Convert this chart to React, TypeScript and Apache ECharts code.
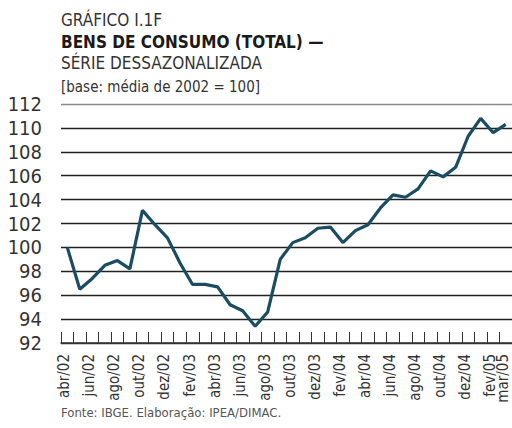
import React, { useEffect, useRef } from "react";
import * as echarts from "echarts";

const months = [
  "abr/02", "mai/02", "jun/02", "jul/02", "ago/02", "set/02", "out/02", "nov/02", "dez/02",
  "jan/03", "fev/03", "mar/03", "abr/03", "mai/03", "jun/03", "jul/03", "ago/03", "set/03",
  "out/03", "nov/03", "dez/03", "jan/04", "fev/04", "mar/04", "abr/04", "mai/04", "jun/04",
  "jul/04", "ago/04", "set/04", "out/04", "nov/04", "dez/04", "jan/05", "fev/05", "mar/05",
];

const values = [
  100.0, 96.5, 97.4, 98.5, 98.9, 98.2, 103.1, 101.9, 100.8,
  98.7, 96.9, 96.9, 96.7, 95.2, 94.7, 93.4, 94.6, 99.0,
  100.4, 100.8, 101.6, 101.7, 100.4, 101.4, 101.9, 103.3, 104.4,
  104.2, 104.9, 106.4, 105.9, 106.7, 109.3, 110.8, 109.6, 110.3,
];

const yMin = 92;
const yMax = 112;
const yStep = 2;

const titleLines = ["GRÁFICO I.1F", "BENS DE CONSUMO (TOTAL) —", "SÉRIE DESSAZONALIZADA", "[base: média de 2002 = 100]"];
const footer = "Fonte: IBGE. Elaboração: IPEA/DIMAC.";

const FONT = "'Liberation Sans Narrow', 'DejaVu Sans Condensed', sans-serif";
const TEXT = "#333333";

export default function App() {
  const ref = useRef<HTMLDivElement>(null);
  useEffect(() => {
    document.body.style.margin = "0";
    const chart = echarts.init(ref.current!, undefined, { renderer: "svg" });
    const labelBase = {
      rotate: 90,
      margin: 11,
      fontFamily: FONT,
      fontSize: 15,
      lineHeight: 6,
      verticalAlign: "bottom",
      color: TEXT,
    };
    chart.setOption({
      animation: false,
      backgroundColor: "#ffffff",
      grid: { left: 61, top: 104, width: 453.6, bottom: 85, containLabel: false },
      xAxis: [
        {
          type: "category",
          data: months,
          boundaryGap: true,
          axisLine: { show: true, lineStyle: { color: "#333333", width: 1.5 } },
          axisTick: { show: true, inside: true, length: 11, interval: 0, lineStyle: { color: "#333333", width: 1 } },
          axisLabel: { ...labelBase, interval: (idx: number) => idx % 2 === 0 },
          splitLine: { show: false },
        },
        {
          type: "category",
          data: months,
          position: "bottom",
          boundaryGap: true,
          axisLine: { show: false },
          axisTick: { show: false },
          axisLabel: { ...labelBase, interval: (idx: number) => idx === months.length - 1 },
          splitLine: { show: false },
        },
      ],
      yAxis: {
        type: "value",
        min: yMin,
        max: yMax,
        interval: yStep,
        axisLine: { show: false },
        axisTick: { show: false },
        axisLabel: { margin: 19, fontFamily: FONT, fontSize: 20, color: TEXT },
        splitLine: {
          show: true,
          lineStyle: {
            color: ["#333333", "#222222", "#222222", "#222222", "#222222", "#222222", "#222222", "#222222", "#222222", "#222222", "#888888"],
            width: 1.3,
          },
        },
      },
      series: [
        {
          type: "line",
          data: values,
          symbol: "none",
          lineStyle: { color: "#1b4d62", width: 3.2 },
          z: 5,
        },
      ],
      graphic: [
        { type: "text", left: 61, top: 11, style: { text: titleLines[0], font: `17px ${FONT}`, fill: TEXT } },
        { type: "text", left: 61, top: 33, style: { text: titleLines[1], font: `bold 17px ${FONT}`, fill: "#1a1a1a" } },
        { type: "text", left: 61, top: 54, style: { text: titleLines[2], font: `17px ${FONT}`, fill: TEXT } },
        { type: "text", left: 61, top: 79, style: { text: titleLines[3], font: `15px ${FONT}`, fill: TEXT } },
        { type: "text", left: 61, top: 406, style: { text: footer, font: `13px ${FONT}`, fill: "#555555" } },
      ],
    });
    return () => chart.dispose();
  }, []);
  return <div ref={ref} style={{ width: 512, height: 428, overflow: "hidden" }} />;
}
